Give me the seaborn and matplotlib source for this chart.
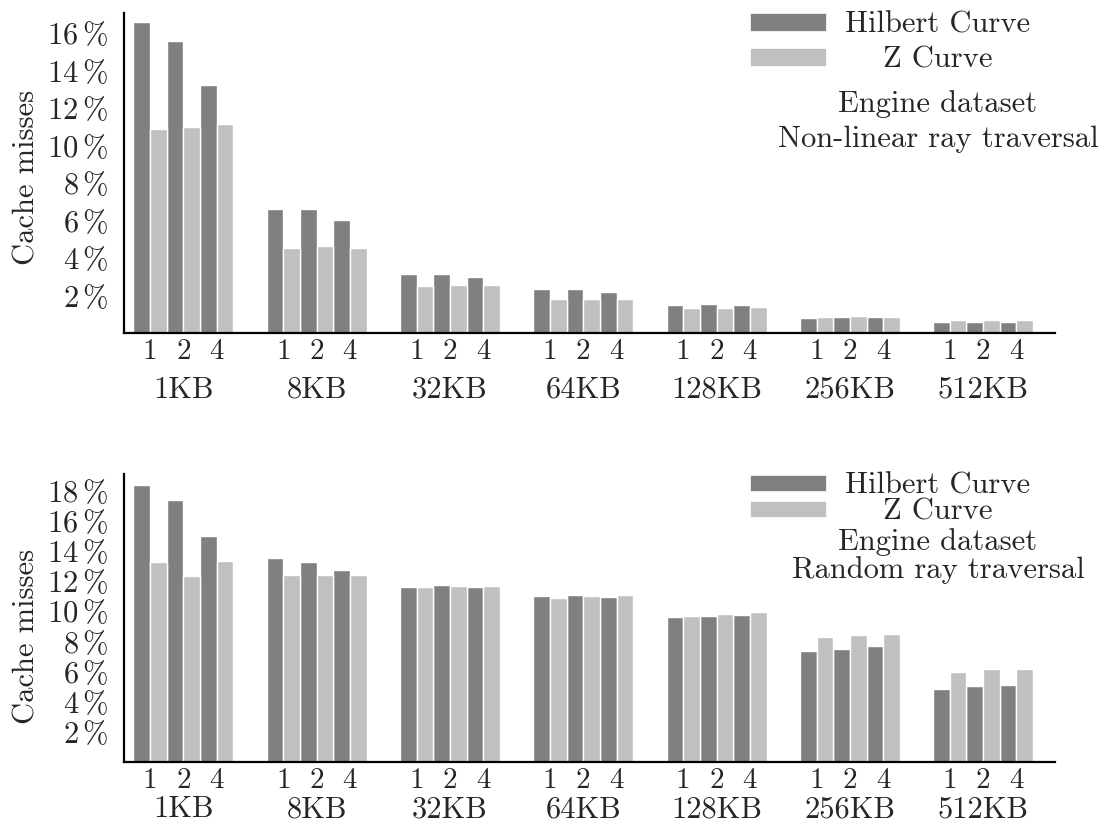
import numpy as np
import pandas as pd
import matplotlib
matplotlib.use("Agg")
import matplotlib.pyplot as plt
import seaborn as sns
from matplotlib.patches import Patch
from matplotlib.transforms import blended_transform_factory

# ---------------- data ----------------
cache_sizes = ["1KB", "8KB", "32KB", "64KB", "128KB", "256KB", "512KB"]
threads = ["1", "2", "4"]
curves = ["Hilbert Curve", "Z Curve"]

nonlinear_hilbert = [16.6, 15.6, 13.25, 6.63, 6.6, 6.01, 3.14, 3.17, 2.98,
                     2.36, 2.36, 2.21, 1.52, 1.56, 1.48, 0.79, 0.83, 0.83,
                     0.60, 0.60, 0.58]
nonlinear_z = [10.9, 11.0, 11.15, 4.53, 4.62, 4.55, 2.53, 2.57, 2.57,
               1.79, 1.82, 1.84, 1.34, 1.36, 1.38, 0.88, 0.90, 0.88,
               0.70, 0.72, 0.68]
random_hilbert = [18.34, 17.37, 14.97, 13.49, 13.27, 12.72, 11.62, 11.75, 11.62,
                  10.98, 11.03, 10.91, 9.57, 9.68, 9.72, 7.32, 7.47, 7.65,
                  4.82, 5.00, 5.13]
random_z = [13.25, 12.32, 13.29, 12.36, 12.38, 12.38, 11.56, 11.64, 11.67,
            10.87, 10.96, 11.03, 9.68, 9.81, 9.90, 8.25, 8.40, 8.46,
            5.95, 6.13, 6.17]

panel_titles = [["Engine dataset", "Non-linear ray traversal"],
                ["Engine dataset", "Random ray traversal"]]

# ---------------- style ----------------
sns.set_style("white")
plt.rcParams["font.family"] = ["cmr10", "DejaVu Serif"]
plt.rcParams["mathtext.fontset"] = "cm"
plt.rcParams["axes.unicode_minus"] = False

DARK = "#808080"
LIGHT = "#c0c0c0"
FS = 22


def make_df(h, z):
    rows = []
    for g, size in enumerate(cache_sizes):
        for j, t in enumerate(threads):
            pos = g + 0.125 + 0.25 * j
            k = g * len(threads) + j
            rows.append({"pos": pos, "value": h[k], "curve": curves[0]})
            rows.append({"pos": pos, "value": z[k], "curve": curves[1]})
    return pd.DataFrame(rows)


fig = plt.figure(figsize=(11.13, 8.26), dpi=100)
W, H = 1113.0, 826.0
# axes pixel boxes: (left, top, right, bottom)
boxes = [(124, 13, 1055, 333), (124, 474, 1055, 762)]
ymaxes = [17.07, 19.07]
yticks_list = [list(range(2, 17, 2)), list(range(2, 19, 2))]
datasets = [(nonlinear_hilbert, nonlinear_z), (random_hilbert, random_z)]
label_y = [0.4875, 0.4375]
xtick_pad = [4, 4]
group_y = [-0.203, -0.191]
leg_cfg = [dict(anchor_y=1.005, spacing=0.25, hh=0.5),
           dict(anchor_y=1.006, spacing=-0.05, hh=0.42)]
extra_y = [[0.691, 0.581], [0.736, 0.639]]

for i in range(2):
    l, t, r, b = boxes[i]
    ax = fig.add_axes([l / W, 1 - b / H, (r - l) / W, (b - t) / H])
    df = make_df(*datasets[i])
    sns.barplot(data=df, x="pos", y="value", hue="curve", hue_order=curves,
                palette=[DARK, LIGHT], native_scale=True, width=1.0, gap=0,
                edgecolor="white", linewidth=1.0, errorbar=None,
                legend=False, ax=ax)
    ax.set_xlim(-0.07, 6.914)
    ax.set_ylim(0, ymaxes[i])
    sns.despine(ax=ax)
    for s in ["left", "bottom"]:
        ax.spines[s].set_linewidth(1.6)
        ax.spines[s].set_color("black")
    ax.grid(False)

    ticks = yticks_list[i]
    ax.set_yticks(ticks)
    ax.set_yticklabels([rf"${v}\,\%$" for v in ticks])
    xt = [g + 0.125 + 0.25 * j for g in range(len(cache_sizes)) for j in range(len(threads))]
    ax.set_xticks(xt)
    ax.set_xticklabels(threads * len(cache_sizes))
    ax.tick_params(axis="y", length=0, pad=11.5, labelsize=FS)
    ax.tick_params(axis="x", length=0, pad=xtick_pad[i], labelsize=FS - 1)
    ax.set_xlabel("")
    ax.set_ylabel("Cache misses", fontsize=FS)
    ax.yaxis.set_label_coords(-0.09, label_y[i])

    trans = blended_transform_factory(ax.transData, ax.transAxes)
    for g, size in enumerate(cache_sizes):
        ax.text(g + 0.375, group_y[i], size, transform=trans, ha="center",
                va="baseline", fontsize=FS)

    cfg = leg_cfg[i]
    handles = [Patch(facecolor=DARK, edgecolor="white", linewidth=0.5),
               Patch(facecolor=LIGHT, edgecolor="white", linewidth=0.5)]
    leg = ax.legend(handles, curves, loc="upper left",
                    bbox_to_anchor=(0.6724, cfg["anchor_y"]), frameon=False,
                    fontsize=FS, handlelength=2.5, handleheight=cfg["hh"],
                    handletextpad=0.62, labelspacing=cfg["spacing"],
                    borderpad=0, borderaxespad=0)
    renderer = fig.canvas.get_renderer()
    texts = leg.get_texts()
    widths = [tx.get_window_extent(renderer).width for tx in texts]
    wmax = max(widths)
    for tx, w in zip(texts, widths):
        tx.set_position(((wmax - w) / 2.0, 0))
    fig.canvas.draw()
    bb = texts[0].get_window_extent(renderer)
    cx_disp = (bb.x0 + bb.x1) / 2.0
    cx_ax = ax.transAxes.inverted().transform((cx_disp, 0))[0]
    for line, yy in zip(panel_titles[i], extra_y[i]):
        ax.text(cx_ax, yy, line, transform=ax.transAxes, ha="center",
                va="baseline", fontsize=FS)

fig.savefig("out.png", dpi=100)
